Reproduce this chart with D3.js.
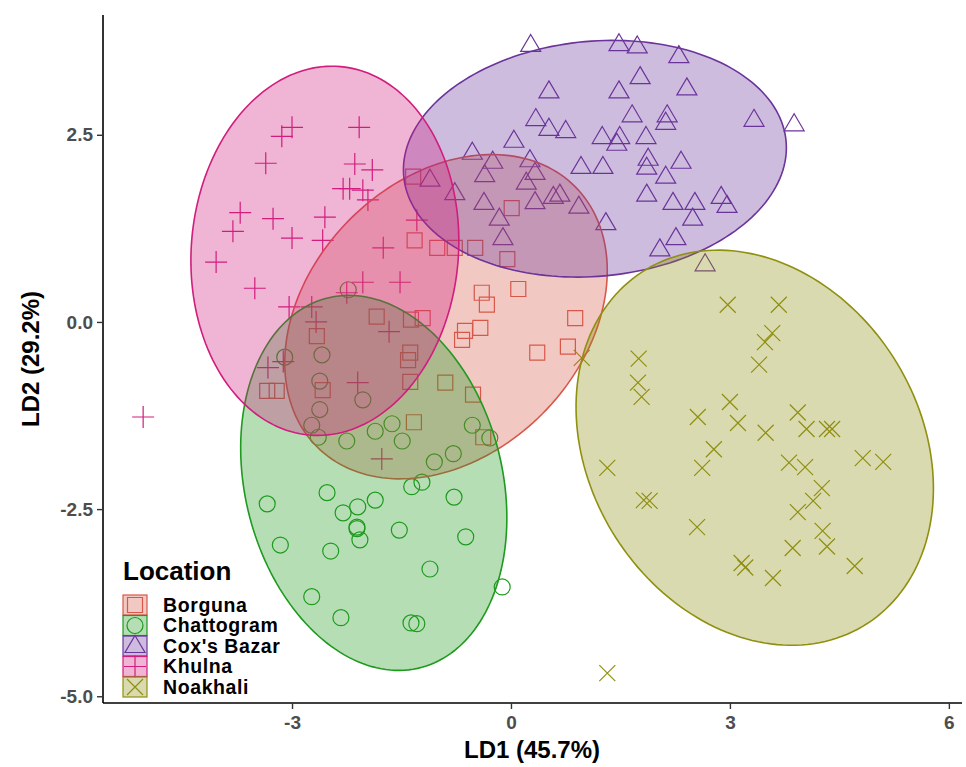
<!DOCTYPE html>
<html>
<head>
<meta charset="utf-8">
<script src="https://cdn.jsdelivr.net/npm/d3@7/dist/d3.min.js"></script>
<style>
  body { margin: 0; background: #ffffff; }
  text { font-family: "Liberation Sans", Arial, sans-serif; font-weight: bold; }
</style>
</head>
<body>
<svg id="chart" width="966" height="767"></svg>
<script>
// Sampling locations and their colours
const locations = ["Borguna", "Chattogram", "Cox's Bazar", "Khulna", "Noakhali"];
const colours = ["#D9574A", "#1E9A1E", "#6B349B", "#D11D7E", "#8F8F10"];
const symbols = ["square", "circle", "triangle", "plus", "cross"];

// Discriminant scores [LD1, LD2] per location
const borguna = [
  [0.01, 1.52], [-1.34, 1.94], [-1.32, 1.09], [-1.01, 0.99], [-0.77, 0.99], [-0.49, 0.99],
  [-0.05, 0.84], [-0.40, 0.39], [-0.33, 0.23], [0.10, 0.44], [0.88, 0.05], [-0.42, -0.08],
  [-0.63, -0.12], [-0.67, -0.24], [0.36, -0.41], [0.78, -0.33], [-1.21, 0.05], [-1.84, 0.07],
  [-1.38, -0.41], [-1.41, -0.51], [-1.38, -0.80], [-0.90, -0.81], [-0.52, -0.97], [-1.33, -1.34],
  [-0.38, -1.54], [-2.66, -0.19], [-3.34, -0.92], [-3.21, -0.92], [-2.58, -0.91], [-1.37, 0.03]
];
const chattogram = [
  [-2.23, 0.43], [-3.10, -0.47], [-2.59, -0.44], [-2.62, -0.79], [-2.03, -1.04], [-2.62, -1.17],
  [-2.73, -1.38], [-2.64, -1.54], [-2.25, -1.59], [-1.86, -1.46], [-1.63, -1.36], [-1.49, -1.59],
  [-0.53, -1.38], [-0.29, -1.55], [-0.79, -1.76], [-1.05, -1.87], [-1.36, -2.20], [-1.22, -2.14],
  [-0.78, -2.34], [-2.52, -2.28], [-3.34, -2.43], [-2.30, -2.55], [-2.10, -2.47], [-1.86, -2.38],
  [-2.11, -2.76], [-2.07, -2.91], [-1.53, -2.78], [-0.62, -2.87], [-3.16, -2.98], [-2.47, -3.06],
  [-1.11, -3.30], [-0.12, -3.54], [-2.73, -3.67], [-2.33, -3.95], [-1.37, -4.02], [-1.29, -4.03],
  [-2.11, -2.74]
];
const coxsBazar = [
  [0.27, 3.70], [1.48, 3.71], [1.73, 3.68], [2.30, 3.55], [1.77, 3.27], [0.52, 3.08],
  [1.48, 3.08], [2.41, 3.12], [0.34, 2.71], [0.52, 2.58], [0.75, 2.55], [1.66, 2.76],
  [2.14, 2.76], [2.12, 2.66], [3.33, 2.70], [3.88, 2.64], [0.04, 2.42], [1.25, 2.47],
  [1.49, 2.47], [1.45, 2.38], [1.85, 2.47], [-0.53, 2.26], [-0.25, 2.14], [0.26, 2.16],
  [-0.36, 1.96], [0.33, 1.99], [0.96, 2.07], [1.26, 2.07], [1.88, 2.18], [1.86, 2.06],
  [2.33, 2.14], [2.12, 1.94], [-1.11, 1.90], [-0.77, 1.72], [-0.37, 1.59], [0.21, 1.86],
  [0.33, 1.60], [0.58, 1.67], [0.67, 1.70], [0.93, 1.54], [1.86, 1.70], [2.22, 1.59],
  [2.52, 1.59], [2.88, 1.67], [2.96, 1.55], [2.49, 1.38], [-0.16, 1.38], [-0.11, 1.12],
  [1.30, 1.32], [2.26, 1.12], [2.04, 0.97], [2.66, 0.77]
];
const khulna = [
  [-3.00, 2.60], [-3.14, 2.48], [-2.08, 2.60], [-3.36, 2.12], [-2.14, 2.11], [-1.90, 2.03],
  [-2.30, 1.78], [-2.21, 1.78], [-2.03, 1.76], [-1.96, 1.63], [-3.71, 1.46], [-3.81, 1.21],
  [-3.26, 1.38], [-3.00, 1.12], [-2.55, 1.40], [-2.58, 1.09], [-1.75, 0.99], [-1.29, 1.36],
  [-4.04, 0.80], [-3.51, 0.45], [-3.04, 0.20], [-2.73, 0.20], [-2.67, 0.00], [-2.25, 0.39],
  [-2.03, 0.53], [-1.52, 0.53], [-1.67, -0.13], [-3.33, -0.61], [-3.12, -0.53], [-2.10, -0.81],
  [-5.04, -1.27], [-1.77, -1.83]
];
const noakhali = [
  [2.97, 0.23], [3.67, 0.23], [3.58, -0.15], [3.48, -0.27], [3.40, -0.57], [1.75, -0.49],
  [1.74, -0.81], [1.79, -1.00], [0.97, -0.48], [3.00, -1.07], [2.56, -1.27], [3.11, -1.35],
  [3.49, -1.48], [3.93, -1.21], [4.05, -1.43], [4.33, -1.43], [4.40, -1.43], [2.78, -1.70],
  [1.32, -1.95], [2.62, -1.95], [3.81, -1.88], [4.03, -1.94], [4.82, -1.82], [5.10, -1.87],
  [4.26, -2.22], [4.14, -2.39], [3.93, -2.54], [1.82, -2.38], [1.90, -2.39], [2.55, -2.74],
  [4.27, -2.79], [4.33, -3.00], [3.86, -3.02], [3.16, -3.22], [3.21, -3.28], [3.59, -3.42],
  [4.71, -3.26], [1.32, -4.69]
];
const groups = [borguna, chattogram, coxsBazar, khulna, noakhali];

// 95% confidence ellipses: centre [LD1, LD2], semi-axes [major, minor], major-axis angle (deg)
const ellipseCentres = [[-0.89, 0.07], [-1.88, -2.15], [1.15, 2.18], [-2.55, 0.95], [3.34, -1.68]];
const ellipseAxes = [[2.48, 1.85], [2.55, 1.76], [2.63, 1.57], [2.47, 1.83], [2.81, 2.25]];
const ellipseAngles = [43, 105, 5, 85, 125];

// Axis ticks and titles
const xTicks = [-3, 0, 3, 6];
const yTicks = [2.5, 0.0, -2.5, -5.0];
const xTitle = "LD1 (45.7%)";
const yTitle = "LD2 (29.2%)";
const legendTitle = "Location";

const svg = d3.select("#chart");
const x = d3.scaleLinear().domain([-5.59, 6.18]).range([103, 962]);
const y = d3.scaleLinear().domain([-5.09, 4.10]).range([703, 15]);

// Marker outlines, drawn around a pixel centre
function markerPath(kind, cx, cy) {
  switch (kind) {
    case "square":   return `M${cx - 7.5},${cy - 7.5}h15v15h-15Z`;
    case "circle":   return `M${cx + 8},${cy}A8,8 0 1 1 ${cx - 8},${cy}A8,8 0 1 1 ${cx + 8},${cy}Z`;
    case "triangle": return `M${cx},${cy - 10.5}L${cx + 10},${cy + 6.5}L${cx - 10},${cy + 6.5}Z`;
    case "plus":     return `M${cx - 11},${cy}H${cx + 11}M${cx},${cy - 11}V${cy + 11}`;
    case "cross":    return `M${cx - 8},${cy - 8}L${cx + 8},${cy + 8}M${cx - 8},${cy + 8}L${cx + 8},${cy - 8}`;
  }
}

// Points
const pointLayer = svg.append("g");
groups.forEach((pts, gi) => {
  pointLayer.selectAll(null)
    .data(pts)
    .enter().append("path")
    .attr("d", d => markerPath(symbols[gi], x(d[0]), y(d[1])))
    .attr("fill", "none")
    .attr("stroke", colours[gi])
    .attr("stroke-width", 1.2);
});

// Ellipses
const ellipseLine = d3.line().x(d => x(d[0])).y(d => y(d[1])).curve(d3.curveLinearClosed);
const ellipseLayer = svg.append("g");
locations.forEach((loc, gi) => {
  const [cx, cy] = ellipseCentres[gi];
  const [a, b] = ellipseAxes[gi];
  const phi = ellipseAngles[gi] * Math.PI / 180;
  const ring = d3.range(0, 360, 2).map(deg => {
    const t = deg * Math.PI / 180;
    return [
      cx + a * Math.cos(t) * Math.cos(phi) - b * Math.sin(t) * Math.sin(phi),
      cy + a * Math.cos(t) * Math.sin(phi) + b * Math.sin(t) * Math.cos(phi)
    ];
  });
  ellipseLayer.append("path")
    .attr("d", ellipseLine(ring))
    .attr("fill", colours[gi])
    .attr("fill-opacity", 0.33)
    .attr("stroke", colours[gi])
    .attr("stroke-width", 1.6);
});

// Axes (hyphen-minus in tick labels)
const hyphen = f => v => f(v).replace("\u2212", "-");
const xAxis = svg.append("g").attr("transform", "translate(0,703)")
  .call(d3.axisBottom(x).tickValues(xTicks).tickSize(6).tickSizeOuter(0).tickFormat(hyphen(d3.format("d"))));
const yAxis = svg.append("g").attr("transform", "translate(103,0)")
  .call(d3.axisLeft(y).tickValues(yTicks).tickSize(6).tickSizeOuter(0).tickFormat(hyphen(d3.format(".1f"))));
[xAxis, yAxis].forEach(ax => {
  ax.select(".domain").attr("stroke", "#000").attr("stroke-width", 1.6);
  ax.selectAll(".tick line").attr("stroke", "#333").attr("stroke-width", 1.4);
  ax.selectAll(".tick text").attr("fill", "#4D4D4D").style("font-size", "19px")
    .style("font-family", "'Liberation Sans', Arial, sans-serif").style("font-weight", "bold");
});
xAxis.selectAll(".tick text").attr("dy", "0.95em").attr("y", 8);
yAxis.selectAll(".tick text").attr("x", -10);
xAxis.selectAll(".domain").attr("d", `M${x.range()[0]},0H${x.range()[1]}`);
yAxis.selectAll(".domain").attr("d", `M0,${y.range()[0]}V${y.range()[1]}`);

svg.append("text").attr("x", 532).attr("y", 758).attr("text-anchor", "middle")
  .style("font-size", "24px").attr("fill", "#000").text(xTitle);
svg.append("text").attr("transform", "translate(39,359) rotate(-90)").attr("text-anchor", "middle")
  .style("font-size", "24px").attr("fill", "#000").text(yTitle);

// Legend
const legend = svg.append("g").attr("transform", "translate(123,0)");
legend.append("text").attr("x", 0).attr("y", 580).style("font-size", "26px").attr("fill", "#000").text(legendTitle);
locations.forEach((loc, gi) => {
  const top = 595 + gi * 20.5;
  legend.append("rect").attr("x", 0).attr("y", top).attr("width", 24).attr("height", 20)
    .attr("fill", colours[gi]).attr("fill-opacity", 0.33)
    .attr("stroke", colours[gi]).attr("stroke-width", 1.2);
  legend.append("path").attr("d", markerPath(symbols[gi], 12, top + 10))
    .attr("fill", "none").attr("stroke", colours[gi]).attr("stroke-width", 1.2);
  legend.append("text").attr("x", 40).attr("y", top + 16.5).style("font-size", "19.5px")
    .style("letter-spacing", "0.6px").attr("fill", "#000").text(loc);
});
</script>
</body>
</html>
